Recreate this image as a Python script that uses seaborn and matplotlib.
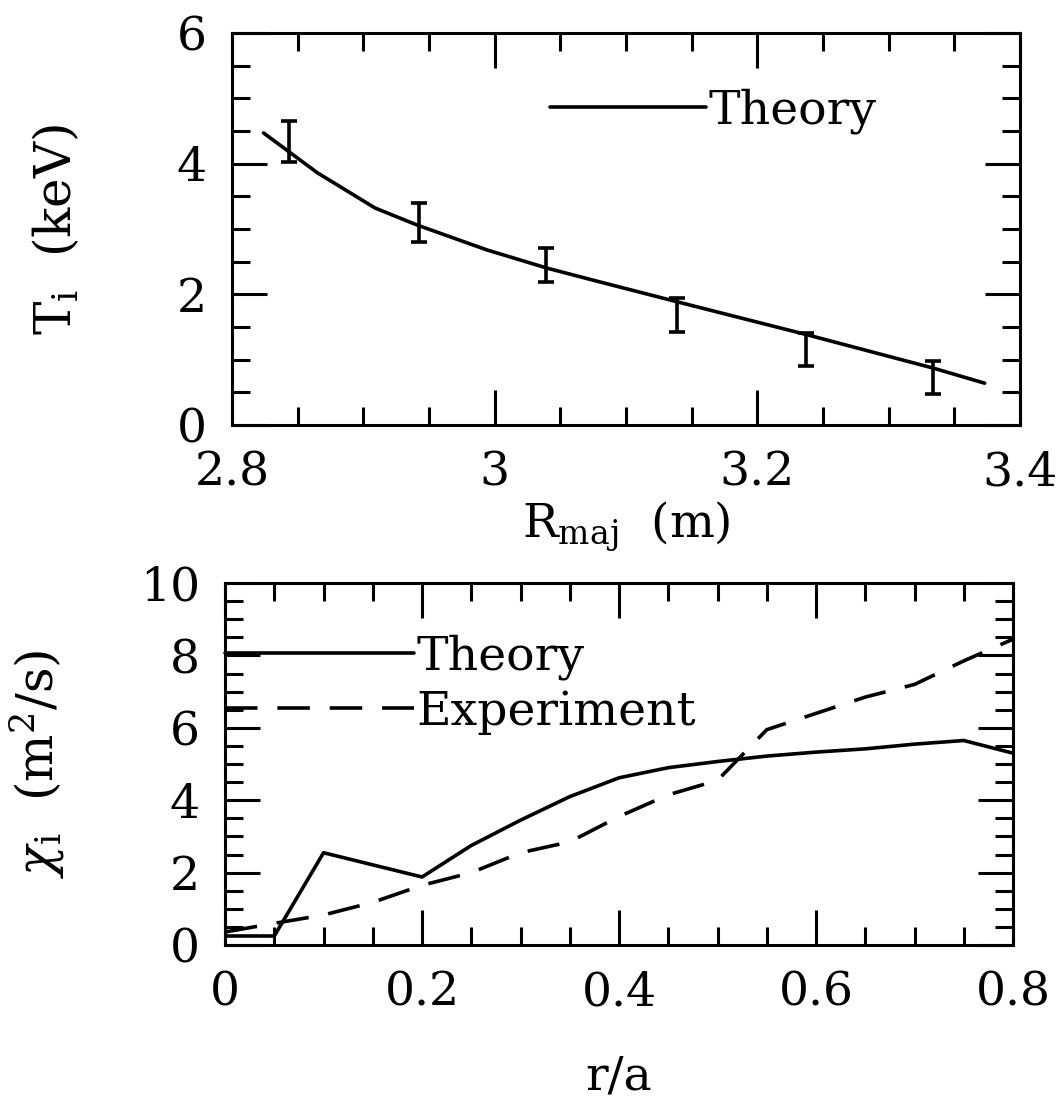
import numpy as np
import seaborn as sns
import matplotlib
matplotlib.use("Agg")
import matplotlib.pyplot as plt
from matplotlib.ticker import MultipleLocator, FuncFormatter

# Top panel: ion temperature vs major radius
r_theory = [2.824, 2.865, 2.909, 2.941, 2.994, 3.040, 3.080, 3.140, 3.238, 3.334, 3.373]
ti_theory = [4.47, 3.86, 3.32, 3.06, 2.68, 2.40, 2.19, 1.88, 1.38, 0.87, 0.64]

r_exp = [2.843, 2.942, 3.039, 3.139, 3.237, 3.334]
ti_exp = [4.34, 3.10, 2.45, 1.68, 1.16, 0.73]
ti_err = [0.31, 0.30, 0.26, 0.26, 0.25, 0.25]

# Bottom panel: ion heat diffusivity vs r/a
rho_theory = [0.0, 0.05, 0.10, 0.20, 0.25, 0.30, 0.35, 0.40, 0.45, 0.50, 0.55, 0.60, 0.65, 0.70, 0.75, 0.80]
chi_theory = [0.25, 0.25, 2.55, 1.88, 2.75, 3.45, 4.10, 4.62, 4.90, 5.07, 5.22, 5.33, 5.42, 5.55, 5.65, 5.30]

rho_exp = [0.0, 0.05, 0.10, 0.15, 0.20, 0.25, 0.30, 0.35, 0.40, 0.45, 0.50, 0.55, 0.60, 0.65, 0.70, 0.75, 0.80]
chi_exp = [0.36, 0.60, 0.83, 1.18, 1.65, 2.00, 2.55, 2.85, 3.55, 4.15, 4.55, 5.95, 6.40, 6.85, 7.20, 7.85, 8.45]

sns.set_style("ticks")
plt.rcParams["font.family"] = ["DejaVu Serif"]
plt.rcParams["mathtext.fontset"] = "dejavuserif"
plt.rcParams["text.color"] = "black"
plt.rcParams["axes.labelcolor"] = "black"
plt.rcParams["axes.linewidth"] = 2.2

FS = 34
LFS = 36
LW = 2.6

fig = plt.figure(figsize=(10.6, 11.07), dpi=100)
ax1 = fig.add_axes([0.2189, 0.6161, 0.7434, 0.3541])
ax2 = fig.add_axes([0.2123, 0.1463, 0.7434, 0.3270])


def style_axis(ax):
    ax.tick_params(which="both", direction="in", top=True, right=True,
                   width=2.2, labelsize=FS, colors="black")
    ax.tick_params(which="major", length=25)
    ax.tick_params(which="minor", length=13)
    ax.tick_params(axis="x", which="both", pad=18)
    ax.tick_params(axis="y", which="both", pad=18)
    for s in ax.spines.values():
        s.set_linewidth(2.2)
        s.set_color("black")
    ax.xaxis.set_major_formatter(FuncFormatter(lambda v, p: "%g" % round(v, 3)))
    ax.yaxis.set_major_formatter(FuncFormatter(lambda v, p: "%g" % round(v, 3)))


# Top panel
sns.lineplot(x=r_theory, y=ti_theory, ax=ax1, color="black", lw=LW,
             label="Theory", sort=False)
ax1.errorbar(r_exp, ti_exp, yerr=ti_err, fmt="none", ecolor="black",
             elinewidth=LW, capsize=6, capthick=LW)
ax1.set_xlim(2.8, 3.4)
ax1.set_ylim(0, 6)
ax1.xaxis.set_major_locator(MultipleLocator(0.2))
ax1.xaxis.set_minor_locator(MultipleLocator(0.05))
ax1.yaxis.set_major_locator(MultipleLocator(2))
ax1.yaxis.set_minor_locator(MultipleLocator(0.5))
style_axis(ax1)
ax1.set_xlabel(r"$\mathrm{R_{maj}}$  (m)", fontsize=FS)
ax1.set_ylabel(r"$\mathrm{T_i}$  (keV)", fontsize=LFS)
ax1.xaxis.set_label_coords(0.5, -0.19)
ax1.yaxis.set_label_coords(-0.19, 0.5)
ax1.legend(loc="center left", bbox_to_anchor=(0.404, 0.80), frameon=False,
           fontsize=FS, handlelength=3.3, handletextpad=0.05,
           borderpad=0, borderaxespad=0)

# Bottom panel
sns.lineplot(x=rho_theory, y=chi_theory, ax=ax2, color="black", lw=LW,
             label="Theory", sort=False)
sns.lineplot(x=rho_exp, y=chi_exp, ax=ax2, color="black", lw=LW,
             label="Experiment", sort=False)
ax2.lines[-1].set_dashes((9, 5.5))
ax2.set_xlim(0, 0.8)
ax2.set_ylim(0, 10)
ax2.xaxis.set_major_locator(MultipleLocator(0.2))
ax2.xaxis.set_minor_locator(MultipleLocator(0.05))
ax2.yaxis.set_major_locator(MultipleLocator(2))
ax2.yaxis.set_minor_locator(MultipleLocator(0.5))
style_axis(ax2)
ax2.set_xlabel("r/a", fontsize=FS)
ax2.xaxis.label.set_va("center")
ax2.set_ylabel(r"$\chi_\mathrm{i}$  (m$^2$/s)", fontsize=LFS)
ax2.xaxis.set_label_coords(0.5, -0.365)
ax2.yaxis.set_label_coords(-0.2, 0.5)
ax2.legend(loc="center left", bbox_to_anchor=(0.0, 0.72), frameon=False,
           fontsize=FS, handlelength=4.0, handletextpad=0.05,
           borderpad=0, borderaxespad=0, labelspacing=0.2)

fig.savefig("out.png", dpi=100)
